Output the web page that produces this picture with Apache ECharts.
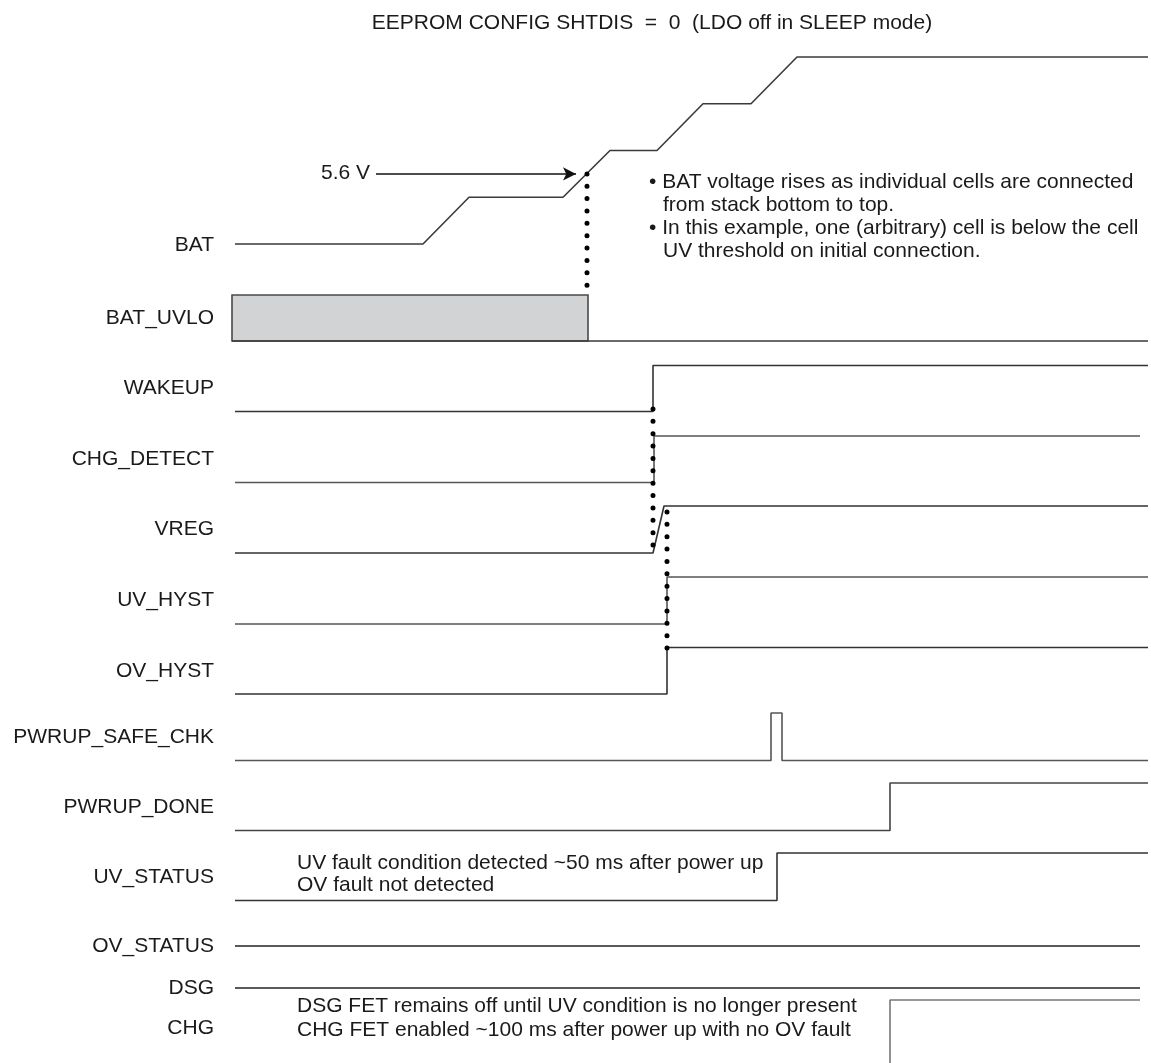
<!DOCTYPE html>
<html><head><meta charset="utf-8">
<script src="https://cdn.jsdelivr.net/npm/echarts/dist/echarts.min.js"></script>
<style>html,body{margin:0;padding:0;background:#fff}#c{width:1151px;height:1063px}</style>
</head><body><div id="c"></div>
<script>
// ---------------- DATA ----------------
const rowLabels = ['BAT','BAT_UVLO','WAKEUP','CHG_DETECT','VREG','UV_HYST','OV_HYST',
  'PWRUP_SAFE_CHK','PWRUP_DONE','UV_STATUS','OV_STATUS','DSG','CHG'];

// time (arbitrary units) and level of each trace vertex
const batTimes   = [0,188,234,328,375,422,468,516,562,913];
const batLevels  = [0,0,1,1,2,2,3,3,4,4];
const uvloTimes  = [-3,913];
const uvloLevels = [0,0];
const uvloActive = [-3,353];          // BAT_UVLO asserted interval (shaded)
const wakeTimes  = [0,418,418,913];
const wakeLevels = [0,0,1,1];
const chgDetTimes  = [0,419,419,905];
const chgDetLevels = [0,0,1,1];
const vregTimes  = [0,418,429,913];
const vregLevels = [0,0,1,1];
const uvHystTimes  = [0,432,432,913];
const uvHystLevels = [0,0,1,1];
const ovHystTimes  = [0,432,432,913];
const ovHystLevels = [0,0,1,1];
const safeTimes  = [0,536,536,547,547,913];
const safeLevels = [0,0,1,1,0,0];
const doneTimes  = [0,655,655,913];
const doneLevels = [0,0,1,1];
const uvStatTimes  = [0,542,542,913];
const uvStatLevels = [0,0,1,1];
const ovStatTimes  = [0,905];
const ovStatLevels = [0,0];
const dsgTimes   = [0,905];
const dsgLevels  = [0,0];
const chgTimes   = [0,655,655,905];
const chgLevels  = [0,0,1,1];

const bat56Time = 352;   // BAT reaches 5.6 V
const bat56Level = 1.5;
const wakeEventTime = 418;
const hystEventTime = 432;

const titleText = 'EEPROM CONFIG SHTDIS  =  0  (LDO off in SLEEP mode)';
const batNotes = ['\u2022 BAT voltage rises as individual cells are connected',
  'from stack bottom to top.',
  '\u2022 In this example, one (arbitrary) cell is below the cell',
  'UV threshold on initial connection.'];
const uvNotes  = ['UV fault condition detected ~50 ms after power up','OV fault not detected'];
const chgNotes = ['DSG FET remains off until UV condition is no longer present',
  'CHG FET enabled ~100 ms after power up with no OV fault'];
const voltLabel = '5.6 V';

// ---------------- LAYOUT ----------------
const FONT = '"Liberation Sans", Arial, Helvetica, sans-serif';
const TXT = '#1a1a1a';
const rowBase = [244,341,411.5,482.5,553,624,694,760.5,830.5,900.5,946,988,1075];
const rowAmp  = [46.75,46,46,46.5,47,47,46.5,47.5,47.5,47.5,46,46,75];
const labelY = rowBase.map((b,i)=> (i>=1 && i<=9) ? b - rowAmp[i]/2 : b);
labelY[0] = 245; labelY[12] = 1028;
function lv(row, level){ return rowBase[row] - level*rowAmp[row]; }
function trace(row, times, levels){ return times.map((t,i)=>[t, lv(row, levels[i])]); }

const traces = [
  [0,batTimes,batLevels,'#3a3a3a'],[1,uvloTimes,uvloLevels,'#3a3a3a'],
  [2,wakeTimes,wakeLevels,'#333'],[3,chgDetTimes,chgDetLevels,'#555'],
  [4,vregTimes,vregLevels,'#333'],[5,uvHystTimes,uvHystLevels,'#555'],
  [6,ovHystTimes,ovHystLevels,'#333'],[7,safeTimes,safeLevels,'#555'],
  [8,doneTimes,doneLevels,'#444'],[9,uvStatTimes,uvStatLevels,'#333'],
  [10,ovStatTimes,ovStatLevels,'#222'],[11,dsgTimes,dsgLevels,'#222'],
  [12,chgTimes,chgLevels,'#777']
];

const series = traces.map(([row,t,l,c])=>({
  type:'line', name:rowLabels[row], data:trace(row,t,l), symbol:'none', silent:true,
  lineStyle:{color:c, width:1.6}, z:3
}));
// shaded BAT_UVLO interval
series[1].markArea = {silent:true, itemStyle:{color:'#d1d3d4', borderColor:'#4a4a4a', borderWidth:1.6},
  data:[[{coord:[uvloActive[0], lv(1,1)]},{coord:[uvloActive[1], lv(1,0)]}]]};

// dotted event lines
const dotStyle = {color:'#000', width:5, type:[0,12.37], cap:'round'};
const dots = [
  [[bat56Time, lv(0,bat56Level)],[bat56Time, lv(1,1)-8]],
  [[wakeEventTime, lv(2,0)-2.5],[wakeEventTime, lv(4,0)-6]],
  [[hystEventTime, lv(4,1)+6],[hystEventTime, lv(6,1)+1]]
];
dots.forEach(d=>series.push({type:'line', data:d, symbol:'none', silent:true, lineStyle:dotStyle, z:5}));

// 5.6 V arrow
series.push({type:'line', data:[], silent:true, markLine:{silent:true, symbol:['none','arrow'], symbolSize:[10,13],
  label:{show:false}, lineStyle:{color:'#111', width:1.5, type:'solid'},
  data:[[{coord:[141, lv(0,bat56Level)]},{coord:[bat56Time-11, lv(0,bat56Level)]}]]}});

// row labels
series.push({type:'scatter', symbolSize:0, silent:true, itemStyle:{opacity:1},
  data: rowLabels.map((n,i)=>({name:n, value:[-21, labelY[i]]})),
  label:{show:true, position:'left', distance:0, formatter:p=>p.name, color:TXT, fontSize:21, fontFamily:FONT}});

// annotations
const notes = [];
function note(text, t, y, pos){ notes.push({name:text, value:[t,y], label:{position:pos||'right'}}); }
note(titleText, 417, 23, 'inside');
note(voltLabel, 135, 173, 'left');
note(batNotes[0], 414, 182); note(batNotes[1], 428, 205);
note(batNotes[2], 414, 228); note(batNotes[3], 428, 251);
note(uvNotes[0], 62, 863); note(uvNotes[1], 62, 885);
note(chgNotes[0], 62, 1006); note(chgNotes[1], 62, 1030);
series.push({type:'scatter', symbolSize:0, silent:true, itemStyle:{opacity:1}, data:notes,
  label:{show:true, distance:0, formatter:p=>p.name, color:TXT, fontSize:21, fontFamily:FONT}});

const chart = echarts.init(document.getElementById('c'), null, {renderer:'canvas'});
chart.setOption({
  animation:false, backgroundColor:'#fff',
  grid:{left:0,right:0,top:0,bottom:0},
  xAxis:{type:'value', min:-235, max:916, show:false},
  yAxis:{type:'value', min:0, max:1063, inverse:true, show:false},
  tooltip:{show:false},
  series
});
</script></body></html>
